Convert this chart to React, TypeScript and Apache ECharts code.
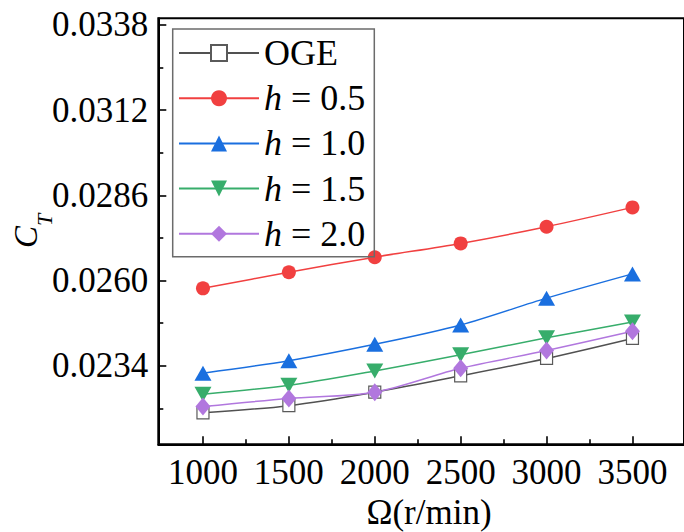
import { useEffect, useRef } from "react";
import * as echarts from "echarts";

// Rotor speed (r/min) and thrust coefficient C_T for each ground height
const rpm = [1000, 1500, 2000, 2500, 3000, 3500];
const ogeCT = [0.02196, 0.02218, 0.02259, 0.02309, 0.02362, 0.02423];
const h05CT = [0.02576, 0.02625, 0.02671, 0.02713, 0.02764, 0.02823];
const h10CT = [0.02317, 0.02355, 0.02405, 0.02464, 0.02546, 0.0262];
const h15CT = [0.02253, 0.0228, 0.02324, 0.02373, 0.02425, 0.02473];
const h20CT = [0.02215, 0.0224, 0.02259, 0.02332, 0.02386, 0.02445];

const seriesNames = ["OGE", "h = 0.5", "h = 1.0", "h = 1.5", "h = 2.0"];

// Axis ticks
const xTicks = [1000, 1500, 2000, 2500, 3000, 3500];
const xMinorTicks = [1250, 1750, 2250, 2750, 3250];
const yTicks = [0.0234, 0.026, 0.0286, 0.0312, 0.0338];
const yMinorTicks = [0.0221, 0.0247, 0.0273, 0.0299, 0.0325];

const SERIF = "'Liberation Serif', 'Times New Roman', serif";

const toPairs = (vals: number[]) => rpm.map((x, i) => [x, vals[i]]);

export default function App() {
  const ref = useRef<HTMLDivElement>(null);

  useEffect(() => {
    if (!ref.current) return;
    const chart = echarts.init(ref.current, undefined, { renderer: "svg" });

    const grid = { left: 158.3, top: 18.3, width: 527.8, height: 426 };
    const xRange = { min: 740, max: 3800 };
    const yRange = { min: 0.021, max: 0.034 };

    const line = (
      name: string,
      vals: number[],
      color: string,
      symbol: string,
      symbolSize: number | number[],
      extra: Record<string, unknown> = {}
    ) => ({
      name,
      type: "line",
      data: toPairs(vals),
      xAxisIndex: 0,
      yAxisIndex: 0,
      smooth: 0.3,
      symbol,
      symbolSize,
      showAllSymbol: true,
      lineStyle: { color, width: 1.5 },
      itemStyle: { color },
      emphasis: { disabled: true },
      ...extra,
    });

    chart.setOption({
      animation: false,
      grid: { ...grid, show: true, borderColor: "#000", borderWidth: 2, backgroundColor: "transparent" },
      xAxis: [
        {
          type: "value",
          ...xRange,
          position: "bottom",
          axisLine: { show: true, lineStyle: { color: "#000", width: 2 } },
          axisTick: { show: true, inside: true, length: 8, customValues: xTicks, lineStyle: { color: "#000", width: 1.6 } },
          axisLabel: {
            customValues: xTicks,
            margin: 11,
            color: "#000",
            fontFamily: SERIF,
            fontSize: 35,
            formatter: (v: number) => String(v),
          },
          splitLine: { show: false },
        },
        {
          type: "value",
          ...xRange,
          position: "bottom",
          axisLine: { show: false },
          axisTick: { show: true, inside: true, length: 5, customValues: xMinorTicks, lineStyle: { color: "#000", width: 1.6 } },
          axisLabel: { show: false, customValues: xMinorTicks },
          splitLine: { show: false },
        },
      ],
      yAxis: [
        {
          type: "value",
          ...yRange,
          position: "left",
          axisLine: { show: true, lineStyle: { color: "#000", width: 2 } },
          axisTick: { show: true, inside: true, length: 8, customValues: yTicks, lineStyle: { color: "#000", width: 1.6 } },
          axisLabel: {
            customValues: yTicks,
            margin: 10,
            color: "#000",
            fontFamily: SERIF,
            fontSize: 35,
            formatter: (v: number) => v.toFixed(4),
          },
          splitLine: { show: false },
        },
        {
          type: "value",
          ...yRange,
          position: "left",
          axisLine: { show: false },
          axisTick: { show: true, inside: true, length: 5, customValues: yMinorTicks, lineStyle: { color: "#000", width: 1.6 } },
          axisLabel: { show: false, customValues: yMinorTicks },
          splitLine: { show: false },
        },
      ],
      legend: {
        orient: "vertical",
        left: 172.7,
        top: 29,
        padding: [6, 9, 5, 5.3],
        itemWidth: 80,
        itemHeight: 20,
        itemGap: 9.2,
        borderColor: "#6b6b6b",
        borderWidth: 1.5,
        selectedMode: false,
        data: seriesNames,
        formatter: (name: string) => (name.startsWith("h ") ? `{i|h}${name.slice(1)}` : name),
        textStyle: {
          color: "#000",
          fontFamily: SERIF,
          fontSize: 36,
          rich: {
            i: { color: "#000", fontFamily: SERIF, fontSize: 36, fontStyle: "italic" },
          },
        },
      },
      graphic: [
        {
          type: "group",
          x: 26,
          y: 248,
          rotation: Math.PI / 2,
          children: [
            {
              type: "text",
              x: 0,
              y: 0,
              style: {
                text: "C",
                fontFamily: SERIF,
                fontSize: 33,
                fontStyle: "italic",
                fill: "#000",
                align: "left",
                verticalAlign: "middle",
              },
            },
            {
              type: "text",
              x: 22,
              y: 18,
              style: {
                text: "T",
                fontFamily: SERIF,
                fontSize: 22,
                fontStyle: "italic",
                fill: "#000",
                align: "left",
                verticalAlign: "middle",
              },
            },
          ],
        },
        {
          type: "text",
          x: 429,
          y: 512,
          style: {
            text: "Ω(r/min)",
            fontFamily: SERIF,
            fontSize: 35,
            fill: "#000",
            align: "center",
            verticalAlign: "middle",
          },
        },
      ],
      series: [
        line(seriesNames[0], ogeCT, "#515151", "rect", 12, {
          itemStyle: { color: "#ffffff", borderColor: "#5a5a5a", borderWidth: 1.2 },
        }),
        line(seriesNames[1], h05CT, "#F14040", "circle", 14),
        line(seriesNames[2], h10CT, "#1A6FDF", "triangle", [17, 15]),
        line(seriesNames[3], h15CT, "#37AD6B", "triangle", [17, 15], { symbolRotate: 180 }),
        line(seriesNames[4], h20CT, "#B177DE", "diamond", [15, 18]),
      ],
    });

    return () => chart.dispose();
  }, []);

  return (
    <div
      ref={ref}
      style={{ position: "fixed", left: 0, top: 0, width: 684, height: 532, background: "#fff" }}
    />
  );
}
